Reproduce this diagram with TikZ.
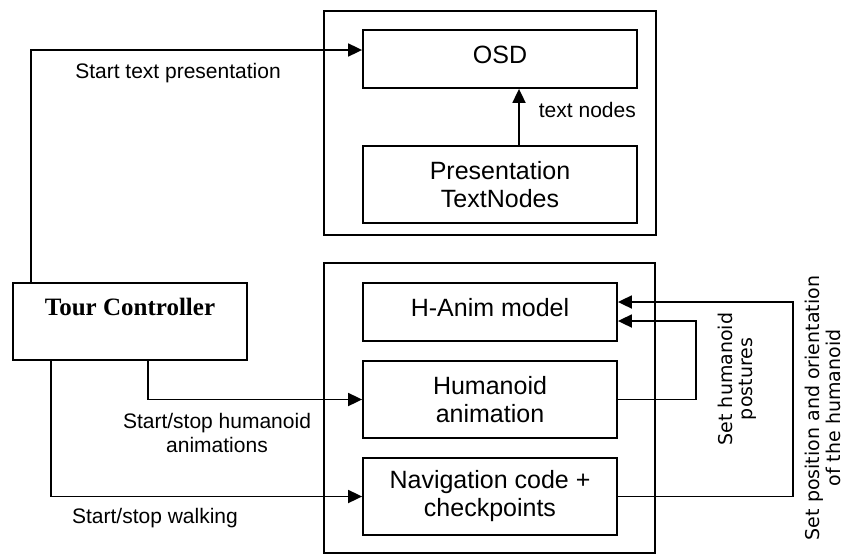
\documentclass[tikz,border=0pt]{standalone}
\usepackage{fontspec}
\setmainfont{Liberation Sans}
\newfontfamily\tourfont{Liberation Serif}
\newfontfamily\sidefont{DejaVu Sans}
\usetikzlibrary{arrows.meta}

\begin{document}
\begin{tikzpicture}[
  x=1pt, y=-1pt,
  >={Triangle[length=14pt,width=13pt]},
  line width=1.8pt,
  every node/.style={inner sep=0pt},
  groupbox/.style={draw},
  module/.style={draw, minimum width=254pt, minimum height=77pt,
    align=center, font=\fontsize{25}{28}\selectfont},
  flowlabel/.style={font=\fontsize{21}{24}\selectfont, align=center},
  sidelabel/.style={rotate=90, align=center,
    font=\sidefont\fontsize{19}{20.5}\selectfont}
]

% Page size (in px-like units, y pointing down)
\useasboundingbox (0,0) rectangle (845,554);

% --- Group frames ---
\node[groupbox, minimum width=332pt, minimum height=224pt] (osdgroup) at (490,123) {};
\node[groupbox, minimum width=331pt, minimum height=290pt] (animgroup) at (489.5,408) {};

% --- OSD side ---
\node[module, minimum width=274pt, minimum height=58pt,
      text height=18pt, text depth=10pt] (osd) at (500,59) {OSD};
\node[module, minimum width=274pt] (ptext) at (500,184.5) {Presentation\\TextNodes};

% --- Humanoid side ---
\node[module, minimum height=58pt,
      text height=18pt, text depth=10pt] (hanim) at (490,312) {H-Anim model};
\node[module] (humanim) at (490,399.5) {Humanoid\\animation};
\node[module] (nav) at (490,496.5) {Navigation code +\\checkpoints};

% --- Controller ---
\node[draw, minimum width=234pt, text height=32pt, text depth=45pt,
      font=\tourfont\bfseries\fontsize{25}{28}\selectfont] (tour) at (130,321.5) {Tour Controller};

% --- Controller outputs ---
\draw[->] ([xshift=19pt]tour.north west) |- ([yshift=9pt]osd.west);
\draw[->] ([xshift=136pt]tour.south west) |- (humanim.west);
\draw[->] ([xshift=39pt]tour.south west) |- (nav.west);

% --- Text nodes into the OSD ---
\draw[->] ([xshift=19pt]ptext.north) -- ([xshift=19pt]osd.south);

% --- Feedback into the H-Anim model ---
\draw[->] (humanim.east) -- ++(78pt,0) |- ([yshift=-9pt]hanim.east);
\draw[->] (nav.east) -- ++(175pt,0) |- ([yshift=10pt]hanim.east);

% --- Labels ---
\node[flowlabel, anchor=base] (lblosd) at (178,78) {Start text presentation};
\node[flowlabel, anchor=base west] (lbltext) at (538,117) {text nodes};
\node[flowlabel] (lblanim) at (217,433) {Start/stop humanoid\\animations};
\node[flowlabel, anchor=base] (lblwalk) at (155,523) {Start/stop walking};
\node[sidelabel] (lblposture) at (737,379) {Set humanoid\\postures};
\node[sidelabel] (lblpose) at (823,408) {Set position and orientation\\of the humanoid};

\end{tikzpicture}
\end{document}
